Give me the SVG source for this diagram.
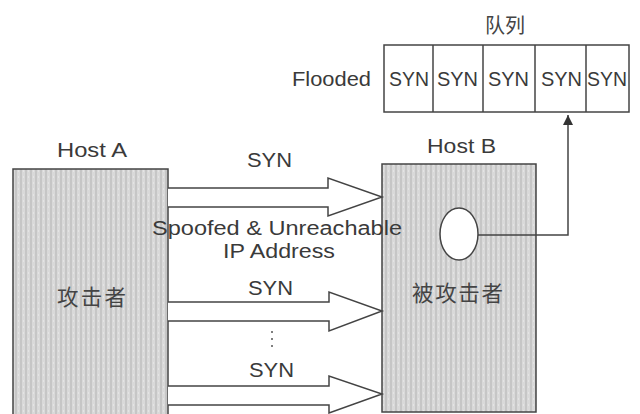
<svg xmlns="http://www.w3.org/2000/svg" width="640" height="414" viewBox="0 0 640 414">
  <defs>
    <pattern id="stripes" width="5" height="6" patternUnits="userSpaceOnUse">
      <rect width="5" height="6" fill="#d9d9d9"/>
      <rect x="0" width="2" height="6" fill="#c6c6c6"/>
      <rect x="3" y="2" width="1" height="2" fill="#e4e4e4"/>
    </pattern>
    <marker id="head" viewBox="0 0 10 10" refX="10" refY="5" markerWidth="10" markerHeight="10" markerUnits="userSpaceOnUse" orient="auto">
      <path d="M0,0 L10,5 L0,10 Z" fill="#333"/>
    </marker>
    <style>
      .t { font-family: "Liberation Sans", Arial, sans-serif; fill: #3a3a3a; }
      .cjk { font-family: "Noto Sans CJK SC", sans-serif; fill: #444; }
      .box { fill: url(#stripes); stroke: #444; stroke-width: 1.5; }
      .cell { fill: #fff; stroke: #444; stroke-width: 1.5; }
      .arrow { fill: #fff; stroke: #444; stroke-width: 1.5; stroke-linejoin: miter; }
      .wire { fill: none; stroke: #444; stroke-width: 1.5; }
    </style>
  </defs>
  <rect width="640" height="414" fill="#fff"/>

  <g id="queue">
    <text class="cjk" x="505" y="33" font-size="20" text-anchor="middle">队列</text>
    <text class="t" x="292" y="86" font-size="20" textLength="79" lengthAdjust="spacingAndGlyphs">Flooded</text>
    <rect class="cell" x="384" y="45" width="245" height="67"/>
    <line class="wire" x1="433" y1="45" x2="433" y2="112"/>
    <line class="wire" x1="483" y1="45" x2="483" y2="112"/>
    <line class="wire" x1="535" y1="45" x2="535" y2="112"/>
    <line class="wire" x1="586" y1="45" x2="586" y2="112"/>
    <text class="t" x="389" y="86" font-size="19.5" textLength="40" lengthAdjust="spacingAndGlyphs">SYN</text>
    <text class="t" x="437" y="86" font-size="19.5" textLength="41" lengthAdjust="spacingAndGlyphs">SYN</text>
    <text class="t" x="488" y="86" font-size="19.5" textLength="41" lengthAdjust="spacingAndGlyphs">SYN</text>
    <text class="t" x="541" y="86" font-size="19.5" textLength="41" lengthAdjust="spacingAndGlyphs">SYN</text>
    <text class="t" x="587" y="86" font-size="19.5" textLength="40" lengthAdjust="spacingAndGlyphs">SYN</text>
  </g>

  <g id="hostA">
    <text class="t" x="57" y="157" font-size="20" textLength="70" lengthAdjust="spacingAndGlyphs">Host A</text>
    <rect class="box" x="13" y="169" width="155" height="260"/>
    <text class="cjk" x="57" y="305" font-size="21.5" textLength="69" lengthAdjust="spacing">攻击者</text>
  </g>

  <g id="hostB">
    <text class="t" x="427" y="153" font-size="20" textLength="69" lengthAdjust="spacingAndGlyphs">Host B</text>
    <rect class="box" x="382" y="164" width="154" height="248"/>
    <ellipse cx="459" cy="234" rx="19" ry="26" fill="#fff" stroke="#444" stroke-width="1.5"/>
    <text class="cjk" x="412" y="301" font-size="21.5" textLength="91" lengthAdjust="spacing">被攻击者</text>
  </g>

  <g id="connectors">
    <path class="arrow" d="M168,188 L328,188 L328,178 L382,197 L328,216 L328,207 L168,207"/>
    <path class="arrow" d="M168,302 L329,302 L329,292 L382,311 L329,331 L329,321 L168,321"/>
    <path class="arrow" d="M168,386 L329,386 L329,376 L382,394 L329,413 L329,405 L168,405"/>
    <polyline class="wire" points="478,235 568,235 568,115" marker-end="url(#head)"/>
  </g>

  <g id="labels">
    <text class="t" x="247" y="167" font-size="20" textLength="45" lengthAdjust="spacingAndGlyphs">SYN</text>
    <text class="t" x="152" y="235" font-size="20" textLength="250" lengthAdjust="spacingAndGlyphs">Spoofed &amp; Unreachable</text>
    <text class="t" x="223" y="258" font-size="20" textLength="112" lengthAdjust="spacingAndGlyphs">IP Address</text>
    <text class="t" x="248" y="295" font-size="20" textLength="45" lengthAdjust="spacingAndGlyphs">SYN</text>
    <circle cx="272" cy="332" r="1" fill="#555"/>
    <circle cx="272" cy="339" r="1" fill="#555"/>
    <circle cx="272" cy="346" r="1" fill="#555"/>
    <text class="t" x="249" y="377" font-size="20" textLength="45" lengthAdjust="spacingAndGlyphs">SYN</text>
  </g>
</svg>
